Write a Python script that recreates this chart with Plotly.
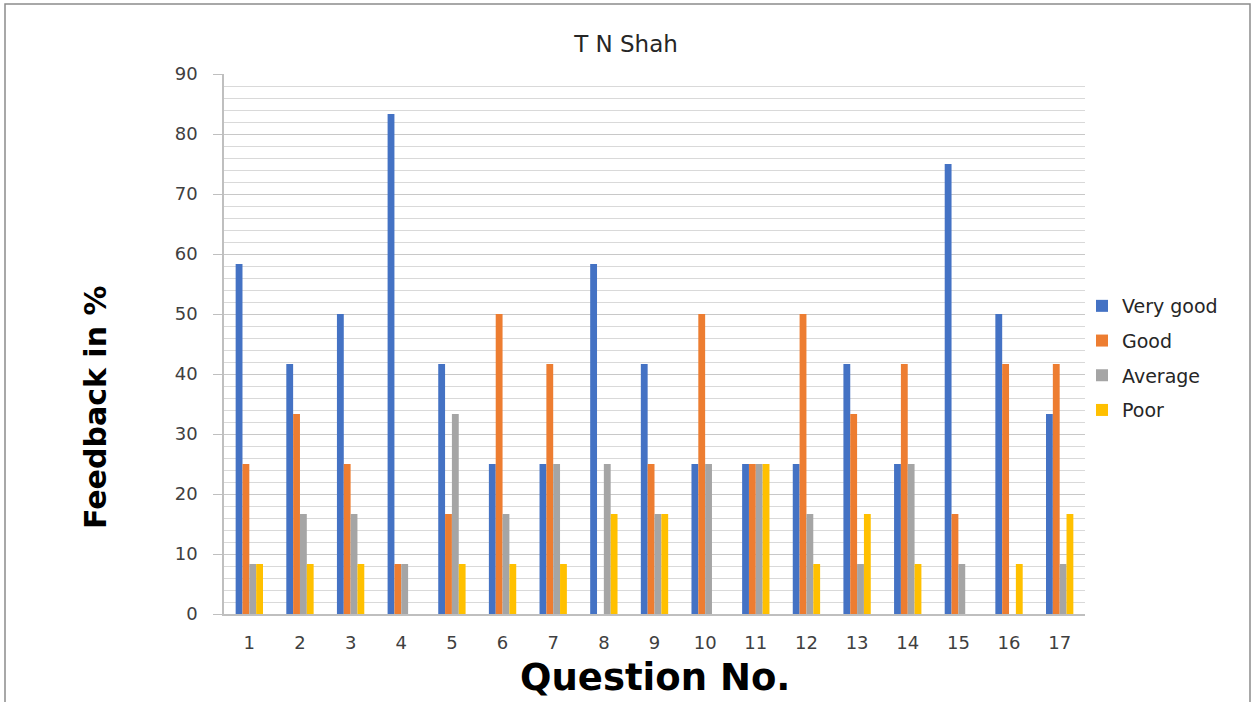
import plotly.graph_objects as go

questions = [str(i) for i in range(1, 18)]
very_good = [58.33, 41.67, 50, 83.33, 41.67, 25, 25, 58.33, 41.67, 25, 25, 25, 41.67, 25, 75, 50, 33.33]
good = [25, 33.33, 25, 8.33, 16.67, 50, 41.67, 0, 25, 50, 25, 50, 33.33, 41.67, 16.67, 41.67, 41.67]
average = [8.33, 16.67, 16.67, 8.33, 33.33, 16.67, 25, 25, 16.67, 25, 25, 16.67, 8.33, 25, 8.33, 0, 8.33]
poor = [8.33, 8.33, 8.33, 0, 8.33, 8.33, 8.33, 16.67, 16.67, 0, 25, 8.33, 16.67, 8.33, 0, 8.33, 16.67]

series_names = ["Very good", "Good", "Average", "Poor"]
series_vals = [very_good, good, average, poor]
colors = ["#4472C4", "#ED7D31", "#A5A5A5", "#FFC000"]

fig = go.Figure()
for name, vals, col in zip(series_names, series_vals, colors):
    fig.add_trace(go.Bar(x=questions, y=vals, name=name, marker_color=col,
                         marker_line_width=0, legendgroup=name))

W, H = 1253, 702
L, R, T, B = 224, 168, 74, 88
pw, ph = W - L - R, H - T - B

def px(x):
    return (x - L) / pw

def py(y):
    return (H - B - y) / ph

font_family = "DejaVu Sans, Verdana, sans-serif"

fig.update_layout(
    width=W, height=H,
    margin=dict(l=L, r=R, t=T, b=B),
    paper_bgcolor="white", plot_bgcolor="white",
    barmode="group", bargap=0.46, bargroupgap=0,
    font=dict(family=font_family, color="#404040"),
    title=dict(text="T N Shah", x=px(626), xref="paper", xanchor="center",
               y=1 - 44 / H, yanchor="middle",
               font=dict(size=23, color="#262626")),
    legend=dict(x=px(1082), xanchor="left", y=py(287), yanchor="top",
                font=dict(size=19, color="#262626"), tracegroupgap=7,
                bgcolor="rgba(0,0,0,0)"),
    xaxis=dict(showline=True, linecolor="#BFBFBF", linewidth=1.5,
               ticks="", tickfont=dict(size=18, color="#404040"),
               ticklabelstandoff=12, showgrid=False),
    yaxis=dict(range=[0, 90], dtick=10, showline=True, linecolor="#BFBFBF",
               linewidth=1.5, ticks="outside", ticklen=9, tickcolor="#BFBFBF",
               tickfont=dict(size=18, color="#404040"), ticklabelstandoff=12,
               showgrid=True, gridcolor="#C8C8C8", gridwidth=1, zeroline=False,
               minor=dict(dtick=2, showgrid=True, gridcolor="#D9D9D9", gridwidth=1)),
    shapes=[dict(type="rect", xref="paper", yref="paper",
                 x0=px(5), x1=px(1250), y0=py(4), y1=py(720),
                 line=dict(color="#8C8C8C", width=1.5), fillcolor="rgba(0,0,0,0)",
                 layer="below")],
    annotations=[
        dict(text="<b>Feedback in %</b>", xref="paper", yref="paper",
             x=px(95), y=py(407), textangle=-90, showarrow=False,
             xanchor="center", yanchor="middle",
             font=dict(size=30, color="black")),
        dict(text="<b>Question No.</b>", xref="paper", yref="paper",
             x=px(655), y=py(677), showarrow=False,
             xanchor="center", yanchor="middle",
             font=dict(size=37, color="black")),
    ],
)

fig.write_html("out.html", config={"displayModeBar": False},
               post_script="document.body.style.margin='0';document.body.style.overflow='hidden';")
